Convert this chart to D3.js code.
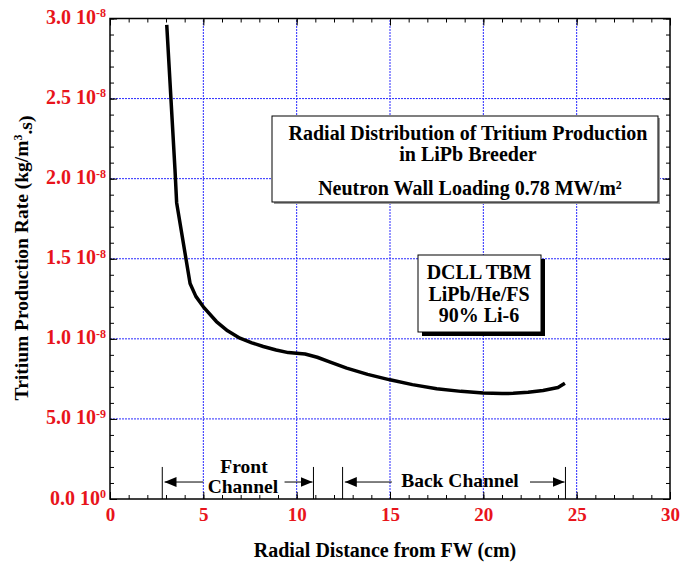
<!DOCTYPE html>
<html>
<head>
<meta charset="utf-8">
<script src="https://cdn.jsdelivr.net/npm/d3@7"></script>
<style>
  body { margin: 0; background: #fff; }
  svg text { font-family: "Liberation Serif", "Times New Roman", serif !important; font-weight: 700 !important; }
</style>
</head>
<body>
<script>
// radial distance (cm) and tritium production rate (kg/m3.s)
const radialCm = [3.04, 3.48, 3.57, 4.29, 4.6, 5.0, 5.7, 6.3, 6.96, 7.6, 8.21, 8.9, 9.55, 10.45, 11.1, 11.8, 12.68, 13.8, 15.0, 16.2, 17.5, 18.8, 20.0, 21.0, 21.6, 22.4, 23.2, 24.0, 24.37];
const tritiumRate = [29.6e-9, 20.6e-9, 18.5e-9, 13.45e-9, 12.65e-9, 12.0e-9, 11.08e-9, 10.5e-9, 10.04e-9, 9.75e-9, 9.52e-9, 9.3e-9, 9.14e-9, 9.05e-9, 8.85e-9, 8.55e-9, 8.17e-9, 7.78e-9, 7.44e-9, 7.14e-9, 6.88e-9, 6.72e-9, 6.62e-9, 6.58e-9, 6.6e-9, 6.66e-9, 6.77e-9, 6.96e-9, 7.23e-9];

const xTicks = [0, 5, 10, 15, 20, 25, 30];
const yTicks = [0, 5e-9, 1e-8, 1.5e-8, 2e-8, 2.5e-8, 3e-8];
const yTickMantissa = ["0.0", "5.0", "1.0", "1.5", "2.0", "2.5", "3.0"];
const yTickExponent = ["0", "-9", "-8", "-8", "-8", "-8", "-8"];

// channel annotation boundaries (cm)
const frontChannel = [2.8, 10.9];
const backChannel = [12.46, 24.4];

const W = 694, H = 566;
const x = d3.scaleLinear().domain([0, 30]).range([110, 670]);
const y = d3.scaleLinear().domain([0, 3e-8]).range([499, 18.5]);

const svg = d3.select("body").append("svg")
  .attr("width", W).attr("height", H)
  .attr("xmlns", "http://www.w3.org/2000/svg");

// grid
const grid = svg.append("g")
  .attr("stroke", "#2a2aff").attr("stroke-width", 1).attr("stroke-dasharray", "2,1");
grid.selectAll("line.gx").data(xTicks.slice(1, -1)).enter().append("line")
  .attr("x1", d => x(d)).attr("x2", d => x(d)).attr("y1", y(0)).attr("y2", y(3e-8));
grid.selectAll("line.gy").data(yTicks.slice(1, -1)).enter().append("line")
  .attr("x1", x(0)).attr("x2", x(30)).attr("y1", d => y(d)).attr("y2", d => y(d));

// minor + major ticks on all four sides (inward)
const minorX = d3.range(0, 31, 1);
const minorY = d3.range(0, 31, 1).map(v => v * 1e-9);
function tickAxis(axis, transform) {
  const g = svg.append("g").attr("transform", transform).call(axis);
  g.select(".domain").remove();
  g.selectAll(".tick line").attr("stroke", "#000").attr("stroke-width", 1);
  g.selectAll(".tick text").remove();
  return g;
}
tickAxis(d3.axisBottom(x).tickValues(minorX).tickSize(-4), `translate(0,${y(0)})`);
tickAxis(d3.axisTop(x).tickValues(minorX).tickSize(-4), `translate(0,${y(3e-8)})`);
tickAxis(d3.axisLeft(y).tickValues(minorY).tickSize(-4), `translate(${x(0)},0)`);
tickAxis(d3.axisRight(y).tickValues(minorY).tickSize(-4), `translate(${x(30)},0)`);
tickAxis(d3.axisBottom(x).tickValues(xTicks).tickSize(-7), `translate(0,${y(0)})`);
tickAxis(d3.axisTop(x).tickValues(xTicks).tickSize(-7), `translate(0,${y(3e-8)})`);
tickAxis(d3.axisLeft(y).tickValues(yTicks).tickSize(-7), `translate(${x(0)},0)`);
tickAxis(d3.axisRight(y).tickValues(yTicks).tickSize(-7), `translate(${x(30)},0)`);

// frame
svg.append("rect")
  .attr("x", x(0)).attr("y", y(3e-8))
  .attr("width", x(30) - x(0)).attr("height", y(0) - y(3e-8))
  .attr("fill", "none").attr("stroke", "#000").attr("stroke-width", 1.5);

// tick labels
const xLab = svg.append("g").attr("transform", `translate(0,${y(0)})`)
  .call(d3.axisBottom(x).tickValues(xTicks).tickSize(0).tickPadding(9));
xLab.select(".domain").remove();
xLab.selectAll(".tick text").attr("fill", "#e8141b").style("font-size", "19px");

const yLab = svg.append("g").attr("transform", `translate(${x(0)},0)`)
  .call(d3.axisLeft(y).tickValues(yTicks).tickSize(0).tickPadding(4).tickFormat(""));
yLab.select(".domain").remove();
yLab.selectAll(".tick text").each(function (d, i) {
  const t = d3.select(this)
    .attr("fill", "#e8141b").attr("dy", "0.25em")
    .style("font-size", "20px");
  t.append("tspan").text(yTickMantissa[i] + " 10");
  t.append("tspan").attr("dy", "-0.55em").style("font-size", "12px").text(yTickExponent[i]);
});

// axis titles
svg.append("text")
  .attr("x", 385).attr("y", 557).attr("text-anchor", "middle")
  .style("font-size", "20px").text("Radial Distance from FW (cm)");
const yt = svg.append("text")
  .attr("transform", "translate(28,258) rotate(-90)").attr("text-anchor", "middle")
  .style("font-size", "19.5px");
yt.append("tspan").text("Tritium Production Rate (kg/m");
yt.append("tspan").attr("dy", "-0.5em").style("font-size", "12px").text("3");
yt.append("tspan").attr("dy", "0.5em").text(".s)");

// curve
const pts = radialCm.map((r, i) => [r, tritiumRate[i]]);
svg.append("path").datum(pts)
  .attr("fill", "none").attr("stroke", "#000").attr("stroke-width", 3.5)
  .attr("stroke-linejoin", "round")
  .attr("d", d3.line().x(d => x(d[0])).y(d => y(d[1])));

// text box 1
svg.append("rect").attr("x", 274).attr("y", 118).attr("width", 386).attr("height", 86).attr("fill", "#999");
svg.append("rect").attr("x", 272).attr("y", 116).attr("width", 386).attr("height", 86)
  .attr("fill", "#fff").attr("stroke", "#000").attr("stroke-width", 1);
svg.append("text").attr("x", 468).attr("y", 140).attr("text-anchor", "middle")
  .style("font-size", "20px").text("Radial Distribution of Tritium Production");
svg.append("text").attr("x", 468).attr("y", 161).attr("text-anchor", "middle")
  .style("font-size", "20px").text("in LiPb Breeder");
const nw = svg.append("text").attr("x", 470).attr("y", 195).attr("text-anchor", "middle")
  .style("font-size", "20px");
nw.append("tspan").text("Neutron Wall Loading 0.78 MW/m");
nw.append("tspan").attr("dy", "-0.5em").style("font-size", "12px").text("2");

// text box 2 with shadow
svg.append("rect").attr("x", 422).attr("y", 259).attr("width", 123).attr("height", 77).attr("fill", "#000");
svg.append("rect").attr("x", 418).attr("y", 255).attr("width", 123).attr("height", 77)
  .attr("fill", "#fff").attr("stroke", "#000").attr("stroke-width", 1);
["DCLL TBM", "LiPb/He/FS", "90% Li-6"].forEach((s, i) => {
  svg.append("text").attr("x", 479).attr("y", 279 + i * 21.7).attr("text-anchor", "middle")
    .style("font-size", "20px").text(s);
});

// channel annotations
const defs = svg.append("defs");
defs.append("marker").attr("id", "ah").attr("viewBox", "0 0 12 10")
  .attr("refX", 12).attr("refY", 5).attr("markerWidth", 12).attr("markerHeight", 10)
  .attr("markerUnits", "userSpaceOnUse").attr("orient", "auto")
  .append("path").attr("d", "M0,0 L12,5 L0,10 Z").attr("fill", "#000");

const ann = svg.append("g");
[frontChannel[0], frontChannel[1], backChannel[0], backChannel[1]].forEach(v => {
  ann.append("line").attr("x1", x(v)).attr("x2", x(v)).attr("y1", y(2e-9)).attr("y2", y(0))
    .attr("stroke", "#000").attr("stroke-width", 1);
});
const arrowY = y(1.06e-9);
const arrows = [[5.0, frontChannel[0] + 0.12], [9.35, frontChannel[1] - 0.05], [15.1, backChannel[0] + 0.12], [22.5, backChannel[1] - 0.05]];
arrows.forEach(a => {
  ann.append("line").attr("x1", x(a[0])).attr("x2", x(a[1])).attr("y1", arrowY).attr("y2", arrowY)
    .attr("stroke", "#000").attr("stroke-width", 1).attr("marker-end", "url(#ah)");
});
ann.append("text").attr("x", x(7.18)).attr("y", y(1.625e-9)).attr("text-anchor", "middle")
  .style("font-size", "19.5px").text("Front");
ann.append("text").attr("x", x(7.12)).attr("y", y(0.375e-9)).attr("text-anchor", "middle")
  .style("font-size", "19.5px").text("Channel");
ann.append("text").attr("x", x(18.75)).attr("y", y(0.75e-9)).attr("text-anchor", "middle")
  .style("font-size", "19.5px").text("Back Channel");
</script>
</body>
</html>
